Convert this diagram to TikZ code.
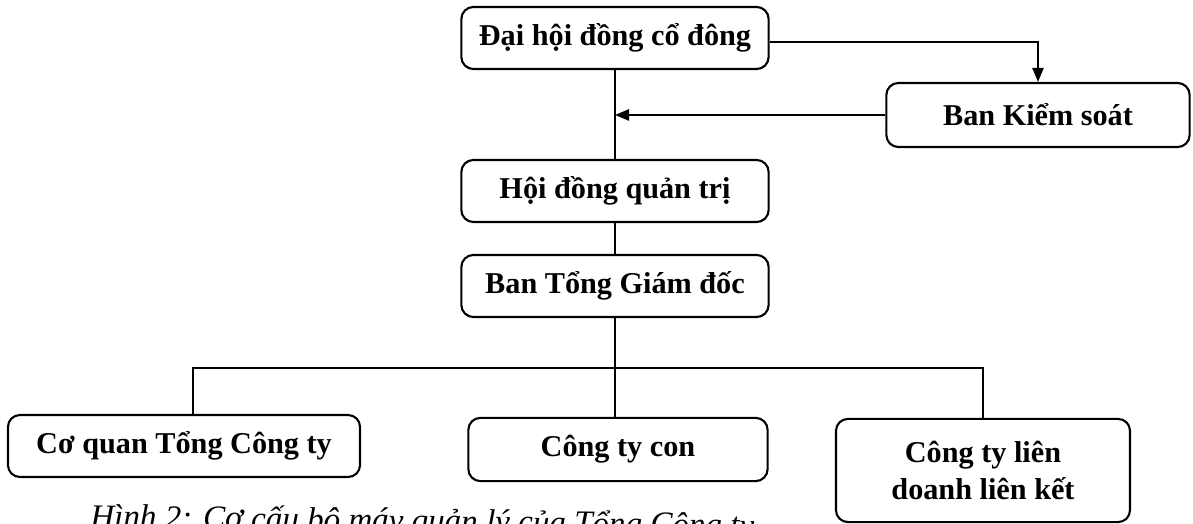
\documentclass[tikz,border=0pt]{standalone}
\usepackage{fontspec}
\setmainfont{Liberation Serif}
\usetikzlibrary{arrows.meta,positioning}

\begin{document}
\begin{tikzpicture}[x=0.025cm, y=-0.025cm]
	\tikzstyle{Box} 	= [draw, rounded corners=0.3cm, line width=1.5pt, align=center, inner sep=0pt, minimum width=7.68cm, minimum height=1.55cm, font=\fontsize{21.5}{26}\selectfont\bfseries]
	\tikzstyle{Link}	= [line width=1.3pt]
	\tikzstyle{Arrow}	= [line width=1.3pt, -{Triangle[length=10pt, width=8pt]}]
	\tikzstyle{Caption}	= [anchor=base west, inner sep=0pt, rotate=-0.8, font=\fontsize{23.5}{28}\selectfont\itshape]

	\useasboundingbox (0,0) rectangle (1193,524);

	\node (dhcd) at (615, 38) [Box] {Đại hội đồng cổ đông};
	\node (bks) at (1038, 115) [Box][minimum width=7.58cm, minimum height=1.6cm] {Ban Kiểm soát};
	\node (hdqt) at (615, 191) [Box] {Hội đồng quản trị};
	\node (btgd) at (615, 286) [Box] {Ban Tổng Giám đốc};
	\node (cqtct) at (184, 446) [Box][minimum width=8.8cm] {Cơ quan Tổng Công ty};
	\node (ctcon) at (618, 449.5) [Box][minimum width=7.48cm, minimum height=1.58cm] {Công ty con};
	\node (ctlk) at (983, 470.5) [Box][minimum width=7.35cm, minimum height=2.58cm] {Công ty liên\\doanh liên kết};

	\coordinate (tap) at (dhcd.south |- bks.west);
	\coordinate (bus) at (615, 368);

	\draw [-] (dhcd) to (hdqt) [Link];
	\draw [-] (hdqt) to (btgd) [Link];
	\draw ([yshift=-0.1cm]dhcd.east) -| (bks.north) [Arrow];
	\draw (bks.west) -- (tap) [Arrow];
	\draw (btgd.south) -- (btgd.south |- ctcon.north) [Link];
	\draw ([xshift=0.22cm]cqtct.north) |- (bus) -| (ctlk.north) [Link];

	% caption is cut by the lower edge
	\begin{scope}
		\clip (0,0) rectangle (1193,524);
		\node (caption) at (90, 527) [Caption] {Hình 2: Cơ cấu bộ máy quản lý của Tổng Công ty};
	\end{scope}
\end{tikzpicture}
\end{document}
